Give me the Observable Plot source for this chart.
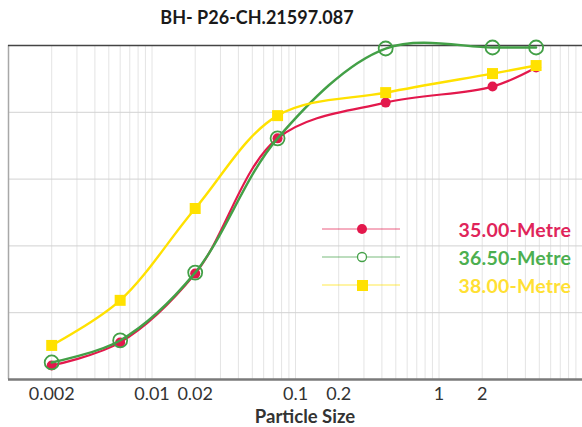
<!DOCTYPE html>
<html><head><meta charset="utf-8">
<script src="https://cdn.jsdelivr.net/npm/d3@7"></script>
<script src="https://cdn.jsdelivr.net/npm/@observablehq/plot@0.6"></script>
<style>
body{margin:0;background:#fff;font-family:Lato,"Open Sans",sans-serif;}
#wrap{position:relative;width:582px;height:427px;overflow:hidden;background:#fff;}
#title{position:absolute;left:0;top:0;width:514px;text-align:center;font-weight:bold;font-size:18px;line-height:34px;color:#1a1a1a;}
#chart{position:absolute;left:0;top:30px;}
#xlabel{position:absolute;left:200px;top:407px;width:210px;text-align:center;font-weight:bold;font-size:18.5px;line-height:19px;color:#333;}
#legend{position:absolute;left:318px;top:215px;}
.row{display:flex;align-items:center;height:28px;}
.row span{width:171px;text-align:right;font-weight:bold;font-size:19.5px;letter-spacing:0.2px;}
</style>
</head><body>
<div id="wrap">
  <div id="title"></div>
  <div id="chart"></div>
  <div id="xlabel"></div>
  <div id="legend"></div>
</div>
<script>
const titleText = "BH- P26-CH.21597.087";
const xLabel = "Particle Size";
const sizes = [0.002, 0.006, 0.02, 0.075, 0.425, 2.36, 4.75];
const seriesNames = ["35.00-Metre", "36.50-Metre", "38.00-Metre"];
const pass35 = [4.2, 11.1, 31.7, 72.2, 82.9, 87.7, 93.4];
const pass365 = [5.1, 11.7, 32.0, 72.2, 99.1, 99.4, 99.4];
const pass38 = [10.2, 23.7, 51.2, 79.0, 85.9, 91.6, 94.0];
const xTicks = [0.002, 0.01, 0.02, 0.1, 0.2, 1, 2];
const yGrid = [20, 40, 60, 80];
const colors = ["#e3184c", "#43a047", "#ffe100"];
const textColors = ["#e0245a", "#4caf50", "#ffe033"];

document.getElementById("title").textContent = titleText;
document.getElementById("xlabel").textContent = xLabel;

const toRows = (vals) => sizes.map((s, i) => ({size: s, pass: vals[i]}));
const d35 = toRows(pass35), d365 = toRows(pass365), d38 = toRows(pass38);

const logGrid = d3.scaleLog().domain([0.001, 10]).ticks();

const chart = Plot.plot({
  width: 582, height: 380,
  marginLeft: 8, marginRight: 0, marginTop: 15, marginBottom: 31,
  x: {type: "log", domain: [0.001, 10], label: null, axis: null},
  y: {domain: [0, 100], axis: null},
  style: {fontFamily: "Lato, 'Open Sans', sans-serif", background: "#fff"},
  marks: [
    Plot.ruleX(logGrid, {stroke: "#e4e4e4", strokeWidth: 1}),
    Plot.ruleY(yGrid, {stroke: "#d2d2d2", strokeWidth: 1}),
    Plot.ruleX([0.001], {stroke: "#a8a8a8", strokeWidth: 1.5}),
    Plot.ruleY([100], {stroke: "#444", strokeWidth: 1.5}),
    Plot.ruleY([0], {stroke: "#7a7a7a", strokeWidth: 2.5}),
    Plot.text(xTicks, {x: d => d, text: d => String(d), frameAnchor: "bottom", dy: 15, lineAnchor: "middle", fontSize: 18, fill: "#333"}),
    Plot.line(d35, {x: "size", y: "pass", stroke: colors[0], strokeWidth: 2.2, curve: "catmull-rom"}),
    Plot.dot(d35, {x: "size", y: "pass", r: 5, fill: colors[0]}),
    Plot.line(d365, {x: "size", y: "pass", stroke: colors[1], strokeWidth: 2.4, curve: "catmull-rom"}),
    Plot.dot(d365, {x: "size", y: "pass", r: 7, stroke: colors[1], strokeWidth: 1.8, fill: "none"}),
    Plot.line(d38, {x: "size", y: "pass", stroke: colors[2], strokeWidth: 2.4, curve: "catmull-rom"}),
    Plot.dot(d38, {x: "size", y: "pass", r: 6.2, symbol: "square", fill: colors[2]})
  ]
});
document.getElementById("chart").appendChild(chart);

// legend
const legend = document.getElementById("legend");
const ns = "http://www.w3.org/2000/svg";
seriesNames.forEach((name, i) => {
  const row = document.createElement("div");
  row.className = "row";
  const svg = document.createElementNS(ns, "svg");
  svg.setAttribute("width", 82); svg.setAttribute("height", 28);
  const ln = document.createElementNS(ns, "line");
  ln.setAttribute("x1", 4); ln.setAttribute("x2", 82);
  ln.setAttribute("y1", 14); ln.setAttribute("y2", 14);
  ln.setAttribute("stroke", colors[i]); ln.setAttribute("stroke-width", 1);
  ln.setAttribute("opacity", 0.7);
  svg.appendChild(ln);
  let m;
  if (i === 0) {
    m = document.createElementNS(ns, "circle");
    m.setAttribute("cx", 44); m.setAttribute("cy", 14); m.setAttribute("r", 5);
    m.setAttribute("fill", colors[0]);
  } else if (i === 1) {
    m = document.createElementNS(ns, "circle");
    m.setAttribute("cx", 44); m.setAttribute("cy", 14); m.setAttribute("r", 4.5);
    m.setAttribute("fill", "#fff"); m.setAttribute("stroke", colors[1]); m.setAttribute("stroke-width", 1.3);
  } else {
    m = document.createElementNS(ns, "rect");
    m.setAttribute("x", 39); m.setAttribute("y", 9); m.setAttribute("width", 11); m.setAttribute("height", 11);
    m.setAttribute("fill", colors[2]);
  }
  svg.appendChild(m);
  row.appendChild(svg);
  const sp = document.createElement("span");
  sp.textContent = name;
  sp.style.color = textColors[i];
  row.appendChild(sp);
  legend.appendChild(row);
});
</script>
</body></html>
